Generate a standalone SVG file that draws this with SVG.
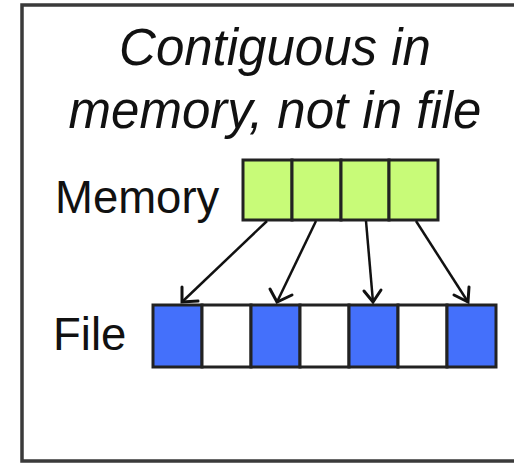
<svg xmlns="http://www.w3.org/2000/svg" width="514" height="463" viewBox="0 0 514 463">
<style>
.t{font-family:"Liberation Sans",Arial,sans-serif;fill:#111}
.title{font-style:italic;font-size:51px;text-anchor:middle}
.lbl{font-size:45.5px}
.m{fill:#c8fb78;stroke:#222;stroke-width:3}
.b{fill:#4470fb;stroke:#222;stroke-width:3}
.w{fill:#fff;stroke:#222;stroke-width:3}
.c{stroke:#111;stroke-width:2.5;fill:none}
.ah{stroke:#111;stroke-width:3;fill:none;stroke-linecap:round;stroke-linejoin:miter}
</style>
<rect x="0" y="0" width="514" height="463" fill="#fff"/>
<g id="frame"><path d="M530 5 H22 V461 H530" fill="none" stroke="#3a3a3a" stroke-width="3.5"/></g>
<g id="title"><text class="t title" x="275" y="65">Contiguous in</text><text class="t title" x="275" y="128">memory, not in file</text></g>
<g id="memory-label"><text class="t lbl" x="55" y="213">Memory</text></g>
<g id="file-label"><text class="t lbl" x="53" y="350">File</text></g>
<g id="memory">
<rect class="m" x="243" y="160" width="49" height="60"/>
<rect class="m" x="292" y="160" width="49" height="60"/>
<rect class="m" x="341" y="160" width="48" height="60"/>
<rect class="m" x="389" y="160" width="49" height="60"/>
</g>
<g id="file">
<rect class="b" x="153" y="305" width="49" height="62"/>
<rect class="w" x="202" y="305" width="49" height="62"/>
<rect class="b" x="251" y="305" width="49" height="62"/>
<rect class="w" x="300" y="305" width="49" height="62"/>
<rect class="b" x="349" y="305" width="49" height="62"/>
<rect class="w" x="398" y="305" width="49" height="62"/>
<rect class="b" x="447" y="305" width="49" height="62"/>
</g>
<g id="connectors">
<line class="c" x1="267" y1="221" x2="182" y2="302"/>
<line class="c" x1="316" y1="221" x2="277" y2="302"/>
<line class="c" x1="366" y1="221" x2="373" y2="302"/>
<line class="c" x1="416" y1="221" x2="468" y2="302"/>
<path class="ah" d="M182 287 L182 302 L198 301"/>
<path class="ah" d="M270 289 L277 302 L292 295"/>
<path class="ah" d="M364 291 L373 302 L381 290"/>
<path class="ah" d="M454 295 L468 302 L469 287"/>
</g>
</svg>
